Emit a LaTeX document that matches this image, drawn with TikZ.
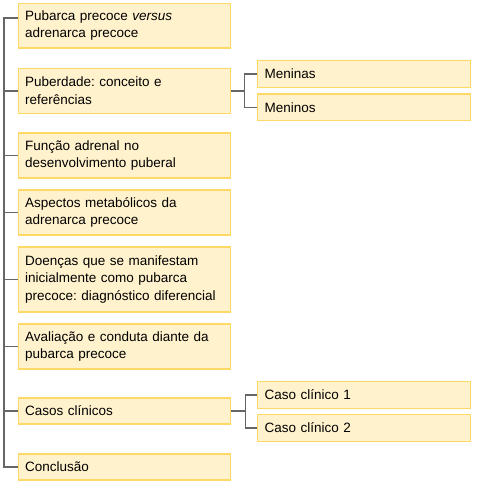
\documentclass[tikz,border=0pt]{standalone}
\usepackage{fontspec}
\setmainfont{Liberation Sans}
\usetikzlibrary{calc}
\definecolor{boxfill}{HTML}{FFF2CC}
\definecolor{boxline}{HTML}{FFD966}
\definecolor{conn}{HTML}{666666}
\tikzset{
  box/.style={draw=boxline, fill=boxfill, line width=1.2pt, anchor=west,
    inner xsep=7pt, inner ysep=0pt, align=left, font=\fontsize{13.5}{17.3}\selectfont},
  mainbox/.style={box, minimum width=212pt, text width=198pt},
  subbox/.style={box, minimum width=213pt, text width=199pt, minimum height=26.5pt},
  link/.style={draw=conn, line width=1.4pt}
}
\begin{document}
\frenchspacing
\begin{tikzpicture}[x=1pt,y=-1pt]
\useasboundingbox (0,0) rectangle (478,490);
\node[mainbox, minimum height=44.5pt] (b1) at (17.5,25.75) {Pubarca precoce \textit{versus}\\adrenarca precoce};
\node[mainbox, minimum height=45pt] (b2) at (17.5,90.8) {Puberdade: conceito e\\referências};
\node[mainbox, minimum height=45pt] (b3) at (17.5,155.5) {Função adrenal no\\desenvolvimento puberal};
\node[mainbox, minimum height=45pt] (b4) at (17.5,212.5) {Aspectos metabólicos da\\adrenarca precoce};
\node[mainbox, minimum height=65pt] (b5) at (17.5,279.5) {Doenças que se manifestam\\inicialmente como pubarca\\precoce: diagnóstico diferencial};
\node[mainbox, minimum height=45pt] (b6) at (17.5,346.5) {Avaliação e conduta diante da\\pubarca precoce};
\node[mainbox, minimum height=26pt] (b7) at (17.5,411) {Casos clínicos};
\node[mainbox, minimum height=26pt] (b8) at (17.5,467) {Conclusão};
\node[subbox] (m1) at (257,74) {Meninas};
\node[subbox] (m2) at (257,107.3) {Meninos};
\node[subbox] (c1) at (257,395) {Caso clínico 1};
\node[subbox] (c2) at (257,428) {Caso clínico 2};
% trunk
\coordinate (top) at (4,18);
\coordinate (bot) at (4,467);
\draw[link] (b1.west |- top) -- (top) -- (bot) -- (b8.west);
\foreach \b in {b2,b3,b4,b5,b6,b7} \draw[link] (top |- \b.west) -- (\b.west);
% branches
\coordinate (j1) at ($(b2.east)+(14,0)$);
\draw[link] (b2.east) -- (j1);
\draw[link] (m1.west) -| (j1) |- (m2.west);
\coordinate (j2) at ($(b7.east)+(14.5,0)$);
\draw[link] (b7.east) -- (j2);
\draw[link] (c1.west) -| (j2) |- (c2.west);
\end{tikzpicture}
\end{document}
